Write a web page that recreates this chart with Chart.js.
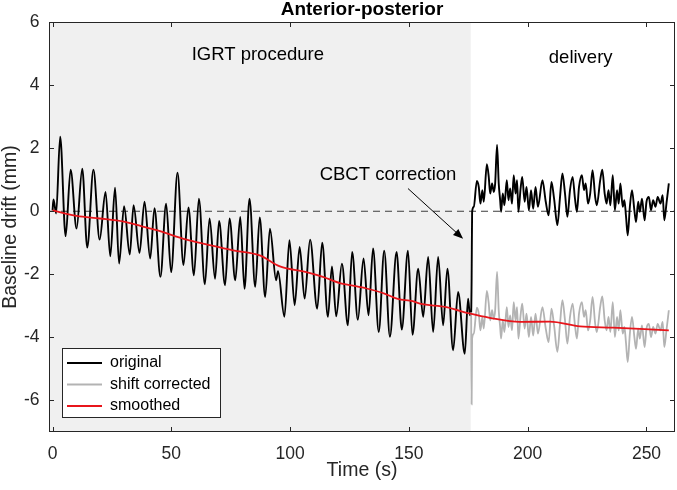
<!DOCTYPE html>
<html>
<head>
<meta charset="utf-8">
<script src="https://cdn.jsdelivr.net/npm/chart.js@4/dist/chart.umd.min.js"></script>
<style>
  html, body { margin: 0; padding: 0; background: #fff; }
  #wrap { width: 677px; height: 490px; }
</style>
</head>
<body>
<div id="wrap"><canvas id="driftChart" width="677" height="490"></canvas></div>
<script>
// IGRT procedure part (s, mm) - peaks / troughs
const PROC_T = [0.0, 0.4, 1.5, 3.2, 5.5, 7.6, 10.1, 12.5, 14.6, 17.2, 19.8, 22.3, 24.3, 26.3, 28.0, 30.1,
    32.5, 34.1, 36.6, 38.7, 41.1, 42.9, 45.4, 47.8, 49.9, 52.6, 55.1, 57.2, 59.5, 61.6, 64.1, 66.1,
    68.4, 70.1, 72.6, 74.5, 76.9, 79.0, 80.8, 82.9, 85.3, 87.2, 89.5, 91.5, 94.1, 94.9, 97.6, 99.7,
    101.9, 104.0, 106.1, 108.4, 111.4, 113.5, 115.9, 117.6, 119.4, 121.8, 124.3, 126.1, 128.5, 130.9,
    133.0, 134.9, 137.3, 139.6, 142.0, 144.8, 147.0, 149.6, 151.5, 153.9, 156.0, 158.1, 160.2, 162.3,
    164.4, 166.2, 168.6, 170.7, 173.5, 174.9, 175.7, 176.2];
const PROC_V = [0.03, 0.37, -0.07, 2.36, -0.79, 1.32, -0.55, 1.35, -1.15, 1.32, -0.90, 0.61, -1.43, 0.75, -1.66, 0.16,
    -1.37, 0.19, -1.32, 0.30, -1.50, 0.10, -2.08, 0.24, -1.93, 1.22, -1.71, 0.12, -2.03, 0.40, -2.32, -0.23,
    -2.14, -0.31, -2.35, -0.23, -2.19, -0.18, -2.46, 0.40, -2.40, -0.20, -2.72, -0.55, -2.19, -1.90, -3.35, -0.92,
    -2.98, -1.13, -2.77, -0.90, -3.09, -1.00, -3.35, -1.75, -3.33, -1.66, -3.62, -1.29, -3.44, -1.50,
    -3.30, -1.18, -3.83, -1.25, -3.98, -1.29, -3.75, -1.25, -3.92, -1.82, -3.35, -1.45, -3.83, -1.45,
    -3.62, -1.82, -4.41, -2.56, -4.52, -2.77, -3.30, -3.20];

// delivery part, after the CBCT correction
const DELIV_T = [176.4, 176.6, 177.3, 178.6, 179.4, 180.1, 180.9, 181.5, 182.8, 183.6, 184.2, 185.0, 185.7, 186.3,
    187.1, 187.8, 188.4, 188.8, 189.5, 190.2, 191.2, 191.9, 192.6, 193.4, 194.1, 194.9, 195.5, 196.1, 197.0,
    197.7, 198.7, 199.5, 200.5, 201.4, 202.3, 203.3, 204.3, 206.2, 207.6, 208.8, 210.0, 211.1, 212.5, 213.6,
    214.6, 215.7, 216.7, 217.8, 218.9, 219.9, 220.7, 221.6, 222.8, 223.7, 224.4, 225.4, 226.3, 227.3, 228.4,
    229.1, 230.5, 231.4, 232.4, 233.2, 234.0, 234.8, 235.8, 236.7, 237.6, 238.3, 239.0, 240.0, 240.7, 241.4,
    242.1, 243.0, 243.9, 244.9, 245.6, 246.5, 247.2, 248.1, 249.2, 250.0, 251.0, 251.9, 252.8, 253.8, 254.7,
    255.9, 256.8, 257.5, 258.4, 259.4];
const DELIV_V = [-2.10, -0.02, 0.14, 0.96, 0.77, 0.24, 0.67, 0.30, 1.49, 1.09, 0.56, 0.88, 0.61, 0.88,
    2.10, 0.88, 0.35, -0.02, 0.56, 0.19, 0.98, 0.35, 0.72, 0.24, 1.14, 0.56, 0.98, -0.02, 0.72,
    1.09, 0.30, 0.77, 0.03, 0.67, 0.08, 0.77, 0.14, 0.98, 0.30, -0.13, 0.93, 0.40, -0.44, 0.45,
    1.20, 0.56, -0.18, 0.67, 1.09, 0.40, -0.02, 0.77, 1.14, 0.67, 0.88, 0.24, 0.56, 1.30, 0.45,
    0.19, 0.98, 1.32, 0.56, 0.24, 0.67, 0.19, 1.14, 0.03, 0.67, 0.24, 0.88, 0.14, 0.35, -0.18,
    -0.76, 0.14, 0.67, 0.03, -0.34, 0.30, -0.02, 0.40, -0.29, 0.30, 0.45, 0.03, 0.35, 0.14, 0.45,
    0.24, 0.51, -0.29, 0.24, 0.88];
const SHIFT = 4.02; // CBCT couch shift (mm)

const SMOOTH_T = [0.0, 10.1, 19.9, 30.0, 37.3, 43.8, 56.4, 64.8, 76.0, 87.2, 95.7, 106.8, 113.8, 120.9, 125.7,
    132.2, 139.7, 145.3, 151.6, 154.6, 165.8, 171.4, 175.9, 184.0, 196.7, 209.3, 222.0, 235.9, 247.2, 259.4];
const SMOOTH_V = [0.03, -0.15, -0.23, -0.33, -0.47, -0.60, -0.90, -1.05, -1.24, -1.40, -1.75, -1.93, -2.08, -2.28, -2.35,
    -2.45, -2.61, -2.78, -2.85, -2.93, -3.04, -3.16, -3.25, -3.38, -3.51, -3.50, -3.65, -3.69, -3.73, -3.78];

const X_TICKS = [0, 50, 100, 150, 200, 250];
const Y_TICKS = [-6, -4, -2, 0, 2, 4, 6];
const CORRECTION_T = 176;

const FONT = "'Liberation Sans', Arial, Helvetica, sans-serif";
const AXIS_COLOR = '#262626';

function pts(ts, vs) {
    return ts.map((t, i) => ({ x: t, y: vs[i] }));
}

const originalData = pts(PROC_T.concat(DELIV_T), PROC_V.concat(DELIV_V));
const lastProc = PROC_T.length - 1;
const correctedData = [{ x: PROC_T[lastProc], y: PROC_V[lastProc] }]
    .concat(DELIV_T.map((t, i) => ({ x: t, y: +(DELIV_V[i] - SHIFT).toFixed(2) })));
const smoothData = pts(SMOOTH_T, SMOOTH_V);

const overlayPlugin = {
    id: 'overlay',
    beforeDatasetsDraw(chart) {
        const { ctx, chartArea: a, scales: { x } } = chart;
        const xEnd = x.getPixelForValue(CORRECTION_T);
        ctx.save();
        ctx.fillStyle = '#f0f0f0';
        ctx.fillRect(a.left, a.top, xEnd - a.left, a.bottom - a.top);
        ctx.restore();
    },
    afterDatasetsDraw(chart) {
        const { ctx, chartArea: a, scales: { x, y } } = chart;
        ctx.save();

        // axes box + inward ticks
        ctx.strokeStyle = AXIS_COLOR;
        ctx.lineWidth = 1;
        ctx.strokeRect(a.left + 0.5, a.top + 0.5, a.right - a.left - 1, a.bottom - a.top - 1);
        ctx.beginPath();
        X_TICKS.forEach(v => {
            const px = Math.round(x.getPixelForValue(v)) + 0.5;
            ctx.moveTo(px, a.bottom); ctx.lineTo(px, a.bottom - 5);
            ctx.moveTo(px, a.top); ctx.lineTo(px, a.top + 5);
        });
        Y_TICKS.forEach(v => {
            const py = Math.round(y.getPixelForValue(v)) + 0.5;
            ctx.moveTo(a.left, py); ctx.lineTo(a.left + 5, py);
            ctx.moveTo(a.right, py); ctx.lineTo(a.right - 5, py);
        });
        ctx.stroke();

        // text annotations
        ctx.fillStyle = '#000';
        ctx.font = '18.5px ' + FONT;
        ctx.textAlign = 'center';
        ctx.textBaseline = 'middle';
        ctx.fillText('IGRT procedure', x.getPixelForValue(86.4), y.getPixelForValue(4.96));
        ctx.fillText('delivery', x.getPixelForValue(222.3), y.getPixelForValue(4.87));
        ctx.fillText('CBCT correction', x.getPixelForValue(141.2), y.getPixelForValue(1.15));

        // arrow
        const x0 = x.getPixelForValue(149.6), y0 = y.getPixelForValue(0.72);
        const x1 = x.getPixelForValue(172.8), y1 = y.getPixelForValue(-0.87);
        const ang = Math.atan2(y1 - y0, x1 - x0);
        ctx.strokeStyle = '#000';
        ctx.lineWidth = 1;
        ctx.beginPath();
        ctx.moveTo(x0, y0);
        ctx.lineTo(x1 - 6 * Math.cos(ang), y1 - 6 * Math.sin(ang));
        ctx.stroke();
        ctx.beginPath();
        ctx.moveTo(x1, y1);
        ctx.lineTo(x1 - 10 * Math.cos(ang) + 4 * Math.sin(ang), y1 - 10 * Math.sin(ang) - 4 * Math.cos(ang));
        ctx.lineTo(x1 - 10 * Math.cos(ang) - 4 * Math.sin(ang), y1 - 10 * Math.sin(ang) + 4 * Math.cos(ang));
        ctx.closePath();
        ctx.fill();

        // title
        ctx.font = 'bold 19px ' + FONT;
        ctx.textBaseline = 'alphabetic';
        ctx.fillStyle = '#000';
        ctx.fillText('Anterior-posterior', (a.left + a.right) / 2, a.top - 7);

        // legend, inside lower-left corner
        const lx = a.left + 13, ly = a.bottom - 84, lw = 158, lh = 69;
        ctx.fillStyle = '#fff';
        ctx.fillRect(lx, ly, lw, lh);
        ctx.strokeStyle = AXIS_COLOR;
        ctx.strokeRect(lx + 0.5, ly + 0.5, lw, lh);
        ctx.font = '16px ' + FONT;
        ctx.textAlign = 'left';
        ctx.textBaseline = 'middle';
        const rows = chart.data.datasets.filter(d => d.inLegend);
        rows.forEach((d, i) => {
            const ry = ly + 15 + i * 21.5;
            ctx.strokeStyle = d.borderColor;
            ctx.lineWidth = d.borderWidth;
            ctx.beginPath();
            ctx.moveTo(lx + 5, ry); ctx.lineTo(lx + 40, ry);
            ctx.stroke();
            ctx.fillStyle = '#000';
            ctx.fillText(d.label, lx + 48, ry);
        });
        ctx.restore();
    }
};

Chart.defaults.font.family = FONT;
Chart.defaults.color = AXIS_COLOR;

const ctx = document.getElementById('driftChart').getContext('2d');
new Chart(ctx, {
    type: 'line',
    data: {
        datasets: [
            {
                label: 'original', data: originalData, inLegend: true,
                borderColor: '#000000', borderWidth: 1.9, order: 2
            },
            {
                label: 'shift corrected', data: correctedData, inLegend: true,
                borderColor: '#b3b3b3', borderWidth: 1.8, order: 1
            },
            {
                label: 'smoothed', data: smoothData, inLegend: true,
                borderColor: '#e8151b', borderWidth: 1.8, order: 0
            },
            {
                label: 'zero', data: [{ x: -1.5, y: 0 }, { x: 262, y: 0 }], inLegend: false,
                borderColor: '#3c3c3c', borderWidth: 1.2, borderDash: [7, 5], order: 3
            }
        ]
    },
    options: {
        responsive: false,
        animation: false,
        events: [],
        elements: {
            point: { radius: 0 },
            line: { cubicInterpolationMode: 'monotone', fill: false }
        },
        layout: { padding: { top: 22, right: 2, left: 0, bottom: 0 } },
        plugins: { legend: { display: false }, tooltip: { enabled: false }, title: { display: false } },
        scales: {
            x: {
                type: 'linear',
                min: -1.5,
                max: 262,
                grid: { display: false, drawTicks: false },
                border: { display: false },
                afterBuildTicks: s => { s.ticks = X_TICKS.map(v => ({ value: v })); },
                afterFit: s => { s.height = 58; },
                ticks: { font: { size: 17.5 }, padding: 11.5, maxRotation: 0, color: AXIS_COLOR },
                title: { display: true, text: 'Time (s)', font: { size: 19.5 }, padding: { top: 0, bottom: 8 }, color: AXIS_COLOR }
            },
            y: {
                min: -7,
                max: 6,
                grid: { display: false, drawTicks: false },
                border: { display: false },
                afterBuildTicks: s => { s.ticks = Y_TICKS.map(v => ({ value: v })); },
                afterFit: s => { s.width = 49; },
                ticks: { font: { size: 17.5 }, padding: 9.5, color: AXIS_COLOR },
                title: { display: true, text: 'Baseline drift (mm)', font: { size: 19.5, lineHeight: 1.05 }, padding: 0, color: AXIS_COLOR }
            }
        }
    },
    plugins: [overlayPlugin]
});
</script>
</body>
</html>
